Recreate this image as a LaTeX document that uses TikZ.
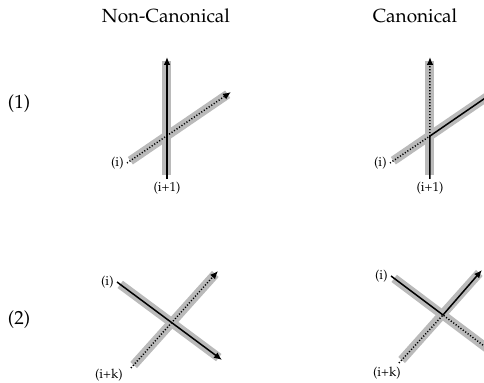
\documentclass[tikz,border=0pt]{standalone}
\usepackage[T1]{fontenc}
\usepackage{mathpazo}
\usepackage{tikz}
\usetikzlibrary{positioning, arrows.meta}

\begin{document}
\begin{tikzpicture}[x=0.5pt, y=-0.5pt,
		band/.style={line width=4.5pt, black!27, shorten <=2pt, shorten >=2pt},
		strand/.style={line width=0.75pt, line join=miter},
		dotstrand/.style={line width=0.75pt, dash pattern=on 0.55pt off 0.95pt},
		tip/.style={-{Latex[length=4pt, width=3.4pt]}},
		title/.style={font=\fontsize{9.5}{11}\selectfont},
		lbl/.style={font=\fontsize{6.5}{8}\selectfont, inner sep=0.5pt},
		]
		\useasboundingbox (0,0) rectangle (484,383);
		\clip (0,0) rectangle (484,383);
		
		%% ── TITLES ─────────────────────────────────────
		\node[title] (tnon) at (166,16) {Non-Canonical};
		\node[title] (tcan) at (415,16) {Canonical};
		\node[title] (row1) at (19,104) {(1)};
		\node[title] (row2) at (19,320) {(2)};
		
		%% ── (1) NON-CANONICAL ──────────────────────────
		\coordinate (aB) at (167,179);
		\coordinate (aT) at (167,57);
		\coordinate (aS) at (127,163);
		\coordinate (aE) at (231,92);
		\draw[band] (aB) -- (aT);
		\draw[band] (aS) -- (aE);
		\draw[strand, tip] (aB) -- (aT);
		\draw[dotstrand, tip] (aS) -- (aE);
		\node[lbl, left=1pt of aS] (ai) {(i)};
		\node[lbl, below=1pt of aB] (ai1) {(i+1)};
		
		%% ── (1) CANONICAL ──────────────────────────────
		\coordinate (bB) at (430,179);
		\coordinate (bT) at (430,57);
		\coordinate (bX) at (430,136);
		\coordinate (bS) at (390,163);
		\coordinate (bE) at (494,92);
		\draw[band] (bB) -- (bT);
		\draw[band] (bS) -- (bE);
		\draw[strand, tip] (bB) -- (bX) -- (bE);
		\draw[dotstrand, tip] (bS) -- (bX) -- (bT);
		\node[lbl, left=1pt of bS] (bi) {(i)};
		\node[lbl, below=1pt of bB] (bi1) {(i+1)};
		
		%% ── (2) NON-CANONICAL ──────────────────────────
		\coordinate (cS) at (117,282);
		\coordinate (cE) at (222,360);
		\coordinate (dS0) at (131,368);
		\coordinate (dE0) at (218,271);
		\draw[band] (cS) -- (cE);
		\draw[band] (dS0) -- (dE0);
		\draw[strand, tip] (cS) -- (cE);
		\draw[dotstrand, tip] (dS0) -- (dE0);
		\node[lbl, left=1pt of cS] (ci) {(i)};
		\node[lbl, below left=0pt and 3.5pt of dS0] (cik) {(i+k)};
		
		%% ── (2) CANONICAL ──────────────────────────────
		\coordinate (dS) at (391,276);
		\coordinate (dX) at (443,315);
		\coordinate (dE) at (482,270);
		\coordinate (dL) at (399,363);
		\coordinate (dR) at (500,358);
		\draw[band] (dS) -- (dR);
		\draw[band] (dL) -- (dE);
		\draw[strand, tip] (dS) -- (dX) -- (dE);
		\draw[dotstrand] (dL) -- (dX) -- (dR);
		\node[lbl, left=1pt of dS] (di) {(i)};
		\node[lbl, below left=1.5pt and -1.5pt of dL] (dik) {(i+k)};
		
	\end{tikzpicture}
\end{document}
